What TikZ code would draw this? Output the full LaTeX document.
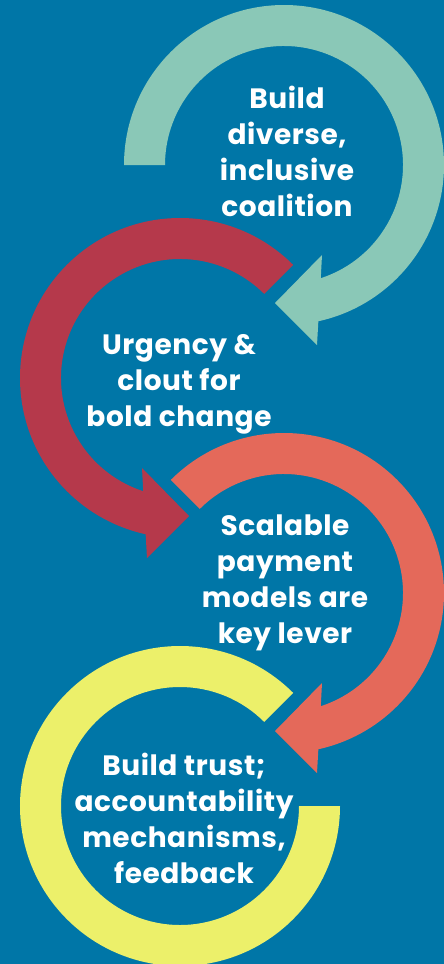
\documentclass[tikz,border=0pt]{standalone}
\usepackage{fontspec}
\setmainfont{Poppins}[LetterSpace=2]
\usepackage{xcolor}
\usetikzlibrary{positioning}

\definecolor{bgblue}{RGB}{0,118,167}
\definecolor{ringteal}{RGB}{138,200,183}
\definecolor{ringred}{RGB}{181,57,75}
\definecolor{ringorange}{RGB}{228,105,90}
\definecolor{ringyellow}{RGB}{236,240,106}

\tikzset{
  ringtext/.style={text=white, align=center, inner sep=0pt,
    font=\bfseries\fontsize{28}{36}\selectfont}
}

\begin{document}
\begin{tikzpicture}[x=1pt,y=1pt]
  \fill[bgblue] (0,0) rectangle (444,-964);
  \useasboundingbox (0,0) rectangle (444,-964);

  \coordinate (T) at (284,-165);
  \coordinate (R) at (180,-378);
  \coordinate (O) at (284,-593);
  \coordinate (Y) at (180,-806);

  % teal ring, arrow to the left
  \fill[ringteal] ([shift={(180:160)}]T) arc[start angle=180, end angle=-77.6, radius=160pt]
    -- ([shift={(33,-180)}]T) -- ([shift={(-9,-138)}]T) -- ([shift={(38,-90)}]T)
    -- ([shift={(-72:119)}]T) arc[start angle=-72, end angle=180, radius=119pt] -- cycle;
  % red ring, arrow to the right
  \fill[ringred] ([shift={(45:160)}]R) arc[start angle=45, end angle=257.6, radius=160pt]
    -- ([shift={(-33,-180)}]R) -- ([shift={(9,-138)}]R) -- ([shift={(-38,-90)}]R)
    -- ([shift={(252:119)}]R) arc[start angle=252, end angle=45, radius=119pt] -- cycle;
  % orange ring
  \fill[ringorange] ([shift={(135:160)}]O) arc[start angle=135, end angle=-77.6, radius=160pt]
    -- ([shift={(33,-180)}]O) -- ([shift={(-9,-138)}]O) -- ([shift={(38,-90)}]O)
    -- ([shift={(-72:119)}]O) arc[start angle=-72, end angle=135, radius=119pt] -- cycle;
  % yellow ring, no arrow
  \fill[ringyellow] ([shift={(45:160)}]Y) arc[start angle=45, end angle=360, radius=160pt]
    -- ([shift={(0:119)}]Y) arc[start angle=360, end angle=45, radius=119pt] -- cycle;

  \node[ringtext] (coalition) at (287,-151.5) {Build\\diverse,\\inclusive\\coalition};
  \node[ringtext] (urgency) at (179,-384.5) {Urgency \&\\clout for\\bold change};
  \node[ringtext] (payment) at (285,-582.5) {Scalable\\payment\\models are\\key lever};
  \node[ringtext] (trust) at (184,-818) {Build trust;\\accountability\\mechanisms,\\feedback};
\end{tikzpicture}
\end{document}
